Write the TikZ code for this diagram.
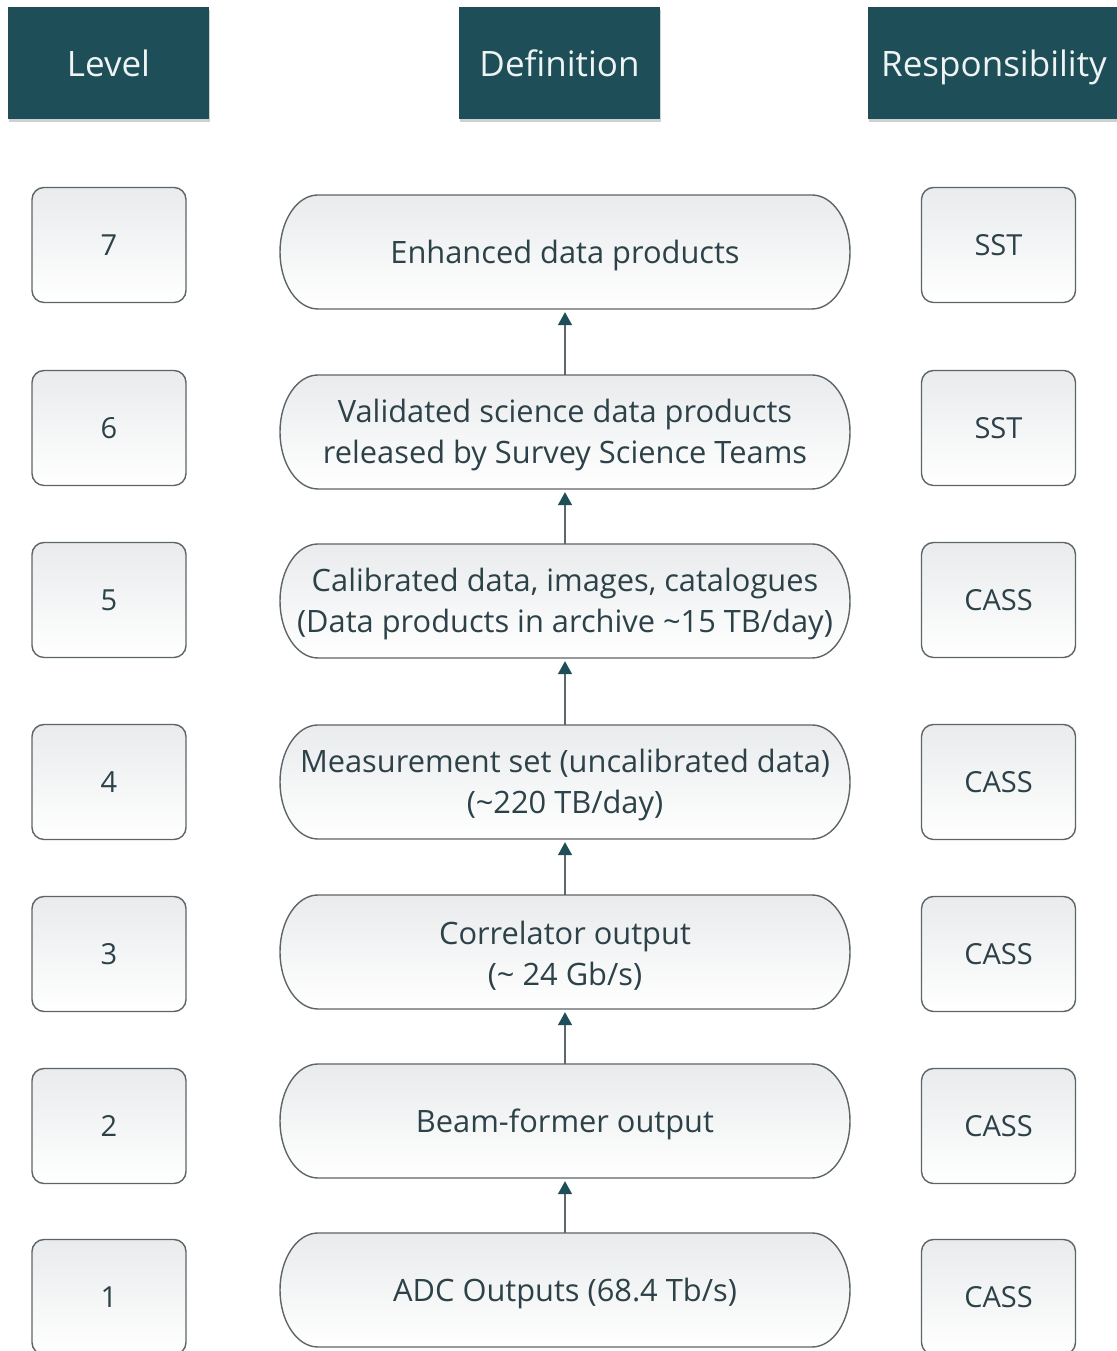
\documentclass[tikz,border=0pt]{standalone}
\usepackage{fontspec}
\setmainfont{Open Sans}
\usetikzlibrary{arrows.meta,shadows,positioning}

\definecolor{headfill}{HTML}{1E4F58}
\definecolor{headtext}{HTML}{EEF4F4}
\definecolor{bodytext}{HTML}{2C4148}
\definecolor{edgegray}{HTML}{5E6568}
\definecolor{linkgray}{HTML}{5B686C}
\definecolor{shadetop}{HTML}{E9EBEC}

\tikzset{
  x=1pt, y=1pt,
  header/.style={rectangle, fill=headfill, text=headtext,
    minimum width=201pt, minimum height=112pt, inner sep=0pt,
    text height=30pt, text depth=3pt,
    font=\fontsize{35}{40}\selectfont,
    drop shadow={shadow xshift=1pt, shadow yshift=-3pt, opacity=0.3, fill=black!60}},
  tagbox/.style={rectangle, rounded corners=12pt, draw=edgegray, line width=1.4pt,
    top color=shadetop, bottom color=white, text=bodytext,
    minimum width=154pt, minimum height=115pt, inner sep=0pt,
    font=\fontsize{29}{34}\selectfont},
  pillshape/.style={draw=edgegray, line width=1.4pt, top color=shadetop, bottom color=white},
  pilltext/.style={rectangle, minimum width=570pt, minimum height=114pt, inner sep=0pt,
    align=center, text=bodytext, font=\fontsize{30.8}{41}\selectfont},
  % text nodes sit 3.5pt below the outline centre, so the ends are trimmed to the outline
  link/.style={draw=linkgray, line width=1.5pt, shorten <=3.5pt, shorten >=-0.5pt,
    -{Triangle[length=13pt, width=14pt, color=headfill]}}
}

% rounded-end "pill" outline with elliptical caps, then the named text node on top
\newcommand\pillnode[3]{%
  \path[pillshape] (318,#2-57) -- (812,#2-57)
    arc[start angle=-90, end angle=90, x radius=38, y radius=57]
    -- (318,#2+57)
    arc[start angle=90, end angle=270, x radius=38, y radius=57] -- cycle;
  \node[pilltext] (#1) at (565,#2-3.5) {#3};
}

\begin{document}
\begin{tikzpicture}
\useasboundingbox (0,0) rectangle (1116,1351);
\fill[white] (0,0) rectangle (1116,1351);

% column headers
\node[header] (hlevel) at (108.5,1288) {Level};
\node[header] (hdef)   at (559.5,1288) {Definition};
\node[header, minimum width=252pt] (hresp) at (994,1288) {Responsibility};

% level column
\node[tagbox] (l7) at (109,1106) {7};
\node[tagbox] (l6) at (109,923) {6};
\node[tagbox] (l5) at (109,751) {5};
\node[tagbox] (l4) at (109,569) {4};
\node[tagbox] (l3) at (109,397) {3};
\node[tagbox] (l2) at (109,225) {2};
\node[tagbox] (l1) at (109,54) {1};

% definition column
\pillnode{d7}{1099}{Enhanced data products}
\pillnode{d6}{919}{Validated science data products\\released by Survey Science Teams}
\pillnode{d5}{750}{Calibrated data, images, catalogues\\(Data products in archive \textasciitilde15 TB/day)}
\pillnode{d4}{569}{Measurement set (uncalibrated data)\\(\textasciitilde220 TB/day)}
\pillnode{d3}{399}{Correlator output\\(\textasciitilde\ 24 Gb/s)}
\pillnode{d2}{230}{Beam-former output}
\pillnode{d1}{61}{ADC Outputs (68.4 Tb/s)}

% responsibility column
\node[tagbox] (r7) at (998.5,1106) {SST};
\node[tagbox] (r6) at (998.5,923) {SST};
\node[tagbox] (r5) at (998.5,751) {CASS};
\node[tagbox] (r4) at (998.5,569) {CASS};
\node[tagbox] (r3) at (998.5,397) {CASS};
\node[tagbox] (r2) at (998.5,225) {CASS};
\node[tagbox] (r1) at (998.5,54) {CASS};

% data flow upward through the levels
\draw[link] (d1.north) -- (d2.south);
\draw[link] (d2.north) -- (d3.south);
\draw[link] (d3.north) -- (d4.south);
\draw[link] (d4.north) -- (d5.south);
\draw[link] (d5.north) -- (d6.south);
\draw[link] (d6.north) -- (d7.south);
\end{tikzpicture}
\end{document}
